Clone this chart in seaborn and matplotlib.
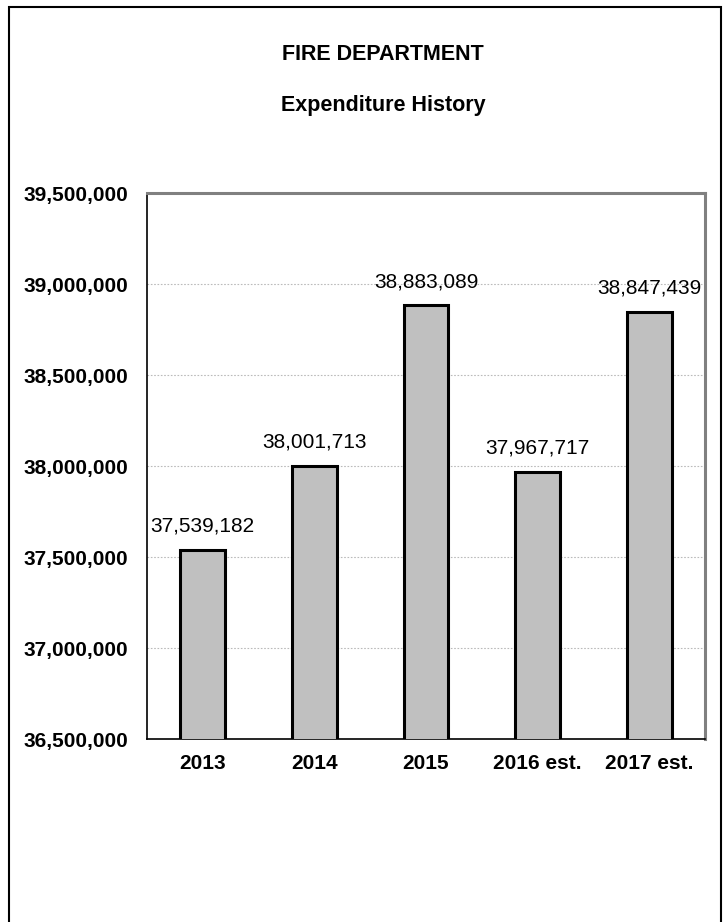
import matplotlib
matplotlib.use("Agg")
import matplotlib.pyplot as plt
from matplotlib.patches import Rectangle
from matplotlib.ticker import FuncFormatter, MultipleLocator
import seaborn as sns
import pandas as pd

years = ["2013", "2014", "2015", "2016 est.", "2017 est."]
spending = [37539182, 38001713, 38883089, 37967717, 38847439]
y_min, y_max, y_step = 36500000, 39500000, 500000

sns.set_theme(style="white")
plt.rcParams["font.family"] = ["Liberation Sans", "DejaVu Sans"]

df = pd.DataFrame({"year": years, "spending": spending})

fig = plt.figure(figsize=(7.25, 9.22), dpi=100)
ax = fig.add_axes([147 / 725, 1 - 739 / 922, (705 - 147) / 725, (739 - 193) / 922])

sns.barplot(data=df, x="year", y="spending", color="#C0C0C0", width=0.4,
            edgecolor="black", linewidth=2.2, saturation=1, ax=ax, zorder=3)

ax.set_ylim(y_min, y_max)
ax.yaxis.set_major_locator(MultipleLocator(y_step))
ax.yaxis.set_major_formatter(FuncFormatter(lambda v, p: f"{v:,.0f}"))
ax.grid(axis="y", color="#BBBBBB", linestyle=(0, (1.5, 1.5)), linewidth=0.8, zorder=0)
ax.set_xlabel("")
ax.set_ylabel("")

# Category boundary ticks on the x axis
ax.set_xticks([i - 0.5 for i in range(len(years) + 1)], minor=True)
ax.tick_params(axis="x", which="major", length=0, pad=11)
ax.tick_params(axis="x", which="minor", direction="out", length=4, width=1, color="black")
ax.tick_params(axis="y", which="major", direction="out", length=3.6, width=1, color="black", pad=10)
ax.set_xlim(-0.5, len(years) - 0.5)

for lbl in ax.get_xticklabels() + ax.get_yticklabels():
    lbl.set_fontweight("bold")
    lbl.set_fontsize(15)
    lbl.set_color("black")

for side in ("left", "bottom"):
    ax.spines[side].set_color("black")
    ax.spines[side].set_linewidth(1.2)
for side in ("top", "right"):
    ax.spines[side].set_color("#808080")
    ax.spines[side].set_linewidth(2.2)
    ax.spines[side].set_visible(True)

for i, v in enumerate(spending):
    ax.annotate(f"{v:,}", xy=(i, v), xytext=(0, 10), textcoords="offset points",
                ha="center", va="bottom", fontsize=15, color="black")

fig.text(383 / 725, 1 - 54 / 922, "FIRE DEPARTMENT", ha="center", va="center",
         fontsize=15.5, fontweight="bold", color="black")
fig.text(383 / 725, 1 - 106 / 922, "Expenditure History", ha="center", va="center",
         fontsize=15.5, fontweight="bold", color="black")

# Outer frame around the chart sheet
fig.patches.append(Rectangle((9 / 725, -0.02), (721 - 9) / 725, 1.02 - 7 / 922,
                             transform=fig.transFigure, fill=False,
                             edgecolor="black", linewidth=1.5))

fig.savefig("out.png", dpi=100, facecolor="white")
